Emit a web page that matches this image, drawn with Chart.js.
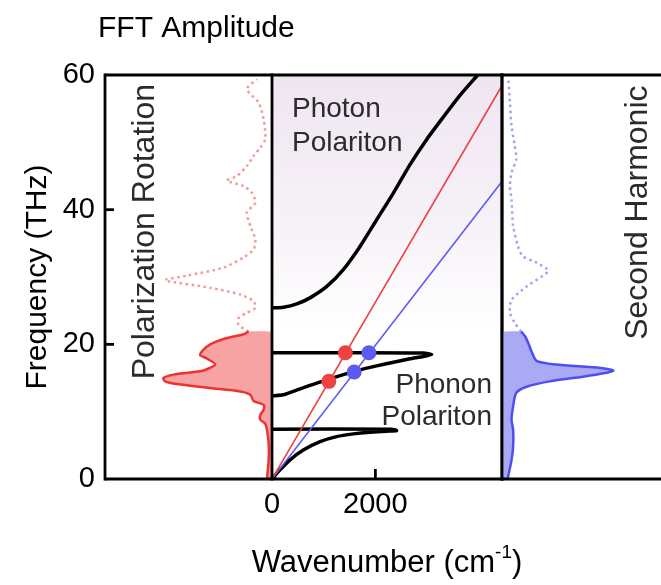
<!DOCTYPE html>
<html>
<head>
<meta charset="utf-8">
<script src="https://cdn.jsdelivr.net/npm/chart.js@4.4.1/dist/chart.umd.min.js"></script>
<style>
  html, body { margin: 0; padding: 0; background: #fff; overflow: hidden; }
  #wrap { position: relative; width: 661px; height: 585px; }
  #wrap canvas { position: absolute; left: 0; top: 0; }
</style>
</head>
<body>
<div id="wrap">
  <canvas id="cLeft" width="661" height="585"></canvas>
  <canvas id="cMid" width="661" height="585"></canvas>
  <canvas id="cRight" width="661" height="585"></canvas>
</div>
<script>
// ---- data ---------------------------------------------------------------
const freqTicks = [0, 20, 40, 60];          // THz
const wavenumberTicks = [0, 2000];          // cm^-1

// FFT amplitude of the polarization-rotation signal, [amplitude, THz]
const rotationMeasured = [[0.14,21.9],[0.17,21.5],[0.29,20.8],[0.37,20.0],[0.41,19.2],[0.43,18.4],[0.39,17.9],[0.34,17.0],[0.39,16.3],[0.43,16.0],[0.59,15.5],[0.65,15.0],[0.64,14.5],[0.57,14.1],[0.37,13.5],[0.19,13.0],[0.13,12.5],[0.11,11.6],[0.05,11.0],[0.05,10.3],[0.07,9.5],[0.07,8.8],[0.04,8.2],[0.03,7.3],[0.02,5.3],[0.02,2.9],[0.03,0]];
const rotationBeyond = [[0.14,21.9],[0.20,22.9],[0.20,23.9],[0.15,24.7],[0.10,25.4],[0.11,26.4],[0.19,27.4],[0.37,28.4],[0.63,29.4],[0.64,29.6],[0.51,30.2],[0.29,31.4],[0.17,32.9],[0.11,34.1],[0.10,35.6],[0.13,37.6],[0.15,39.6],[0.10,41.0],[0.12,42.5],[0.17,43.5],[0.27,44.3],[0.21,45.0],[0.15,46.5],[0.11,48.0],[0.07,49.2],[0.04,50.5],[0.05,53.4],[0.08,55.9],[0.15,57.9],[0.09,59.4]];

// FFT amplitude of the second-harmonic signal, [amplitude, THz]
const shgMeasured = [[0.12,21.9],[0.145,21.2],[0.165,20.2],[0.19,18.7],[0.22,17.5],[0.34,17.0],[0.62,16.5],[0.70,16.1],[0.64,15.7],[0.51,15.2],[0.30,14.5],[0.155,13.7],[0.09,12.8],[0.07,10.8],[0.06,8.8],[0.07,7.3],[0.07,4.8],[0.06,2.8],[0.035,0]];
const shgBeyond = [[0.12,21.9],[0.08,23.2],[0.05,24.7],[0.06,26.6],[0.155,28.6],[0.29,30.9],[0.22,32.1],[0.13,33.1],[0.10,34.6],[0.07,37.6],[0.06,41.5],[0.05,43.5],[0.06,45.5],[0.09,47.5],[0.08,49.5],[0.06,52.4],[0.05,55.9],[0.04,59.4]];

// Polariton dispersion branches, [wavenumber cm^-1, THz]
const photonBranch = [[0,25.4],[220,25.5],[480,26.0],[735,26.9],[1060,28.6],[1380,31.1],[1700,34.5],[2025,38.5],[2350,42.5],[2670,46.7],[2990,50.4],[3310,53.7],[3640,57.0],[3980,60.0]];
const upperPhonon = [[0,12.35],[220,12.5],[410,13.0],[735,13.9],[1060,14.7],[1380,15.5],[1700,16.2],[2025,16.8],[2350,17.35],[2670,17.85],[2930,18.2],[3090,18.5],[2930,18.7],[1700,18.75],[0,18.75]];
const lowerPhonon = [[0,0],[155,1.35],[350,2.85],[605,4.3],[930,5.55],[1250,6.3],[1575,6.7],[1895,6.95],[2220,7.1],[2410,7.2],[2315,7.4],[0,7.4]];

// Probe light lines and the phase-matched points on them
const lightLineRed = [[0,0],[4450,58.4]];
const lightLineBlue = [[0,0],[4450,44.2]];
const redMarkers = [[1420,18.75],[1100,14.5]];
const blueMarkers = [[1875,18.75],[1590,15.9]];

// ---- drawing ------------------------------------------------------------
const W = 661, H = 585;
const FRAME = { top: 75, bottom: 479, left: 105, split1: 272, split2: 502 };
const FONT = "'Liberation Sans', Arial, Helvetica, sans-serif";

Chart.defaults.font.family = FONT;
Chart.defaults.color = '#000';

const pts = arr => arr.map(([x, y]) => ({ x, y }));
const shapeOf = arr => [{ x: 0, y: arr[0][1] }, ...pts(arr), { x: 0, y: arr[arr.length - 1][1] }];

function strokeLine(ctx, x1, y1, x2, y2) {
  ctx.beginPath(); ctx.moveTo(x1, y1); ctx.lineTo(x2, y2); ctx.stroke();
}

function label(ctx, text, x, y, size, align, rotate, color) {
  ctx.save();
  ctx.font = `${size}px ${FONT}`;
  ctx.fillStyle = color || '#2b2b2b';
  ctx.textAlign = align;
  ctx.textBaseline = 'alphabetic';
  ctx.translate(x, y);
  if (rotate) ctx.rotate(-Math.PI / 2);
  ctx.fillText(text, 0, 0);
  ctx.restore();
}

// axis title with a raised exponent: base + sup + tail, centred on cx
function titleWithExponent(ctx, base, sup, tail, cx, baseline, size) {
  ctx.save();
  ctx.fillStyle = '#000';
  ctx.textBaseline = 'alphabetic';
  ctx.textAlign = 'left';
  const big = `${size}px ${FONT}`, small = `${Math.round(size * 0.62)}px ${FONT}`;
  ctx.font = big; const w1 = ctx.measureText(base).width, w3 = ctx.measureText(tail).width;
  ctx.font = small; const w2 = ctx.measureText(sup).width;
  let x = cx - (w1 + w2 + w3) / 2;
  ctx.font = big; ctx.fillText(base, x, baseline); x += w1;
  ctx.font = small; ctx.fillText(sup, x, baseline - size * 0.45); x += w2;
  ctx.font = big; ctx.fillText(tail, x, baseline);
  ctx.restore();
}

const baseOptions = (padding) => ({
  responsive: false,
  animation: false,
  devicePixelRatio: 1,
  layout: { padding },
  elements: { point: { radius: 0 }, line: { tension: 0.25 } },
  plugins: { legend: { display: false }, tooltip: { enabled: false } },
});

// Left panel: polarization rotation spectrum, amplitude grows leftwards
const leftDecor = {
  id: 'leftDecor',
  afterDraw(chart) {
    const { ctx, chartArea: a, scales } = chart;
    ctx.save();
    ctx.strokeStyle = '#000';
    ctx.lineWidth = 2.8;
    strokeLine(ctx, a.left, a.top, a.right, a.top);
    strokeLine(ctx, a.left, a.bottom, a.right, a.bottom);
    strokeLine(ctx, a.left, a.top - 1.4, a.left, a.bottom + 1.4);
    freqTicks.slice(1, -1).forEach(v => {
      const y = scales.y.getPixelForValue(v);
      strokeLine(ctx, a.left, y, a.left + 9, y);
    });
    ctx.restore();
    label(ctx, 'FFT Amplitude', 98, 37, 30, 'left', false, '#000');
    label(ctx, 'Polarization Rotation', 154, (a.top + scales.y.getPixelForValue(20)) / 2 + 22, 32, 'center', true);
  }
};

new Chart(document.getElementById('cLeft'), {
  type: 'line',
  data: {
    datasets: [
      { data: pts(rotationMeasured), borderColor: '#ee3232', borderWidth: 2.5, fill: false, order: 0 },
      { data: pts(rotationBeyond), borderColor: '#f29a9a', borderWidth: 2.5, borderDash: [2.5, 3.5], fill: false, order: 0 },
      { data: shapeOf(rotationMeasured), borderWidth: 0, borderColor: 'rgba(0,0,0,0)', backgroundColor: '#f7a3a3', fill: 'shape', order: 1 }
    ]
  },
  options: {
    ...baseOptions({ left: 0, top: FRAME.top, right: W - FRAME.split1, bottom: H - FRAME.bottom }),
    scales: {
      x: { type: 'linear', min: 0, max: 1, reverse: true, display: false },
      y: {
        type: 'linear', min: 0, max: 60, position: 'left',
        afterBuildTicks: s => { s.ticks = freqTicks.map(v => ({ value: v })); },
        afterFit: s => { s.width = FRAME.left; },
        grid: { display: false, drawTicks: false },
        border: { display: false },
        ticks: { font: { size: 29 }, padding: 10, color: '#000', callback: v => String(v) },
        title: { display: true, text: 'Frequency (THz)', font: { size: 30 }, color: '#000', padding: { top: 20, bottom: 0 } }
      }
    }
  },
  plugins: [leftDecor]
});

// Middle panel: polariton dispersion with the probe light lines
const midDecor = {
  id: 'midDecor',
  beforeDatasetsDraw(chart) {
    const { ctx, chartArea: a, scales } = chart;
    const g = ctx.createLinearGradient(0, a.top, 0, scales.y.getPixelForValue(22));
    g.addColorStop(0, '#efe5f1');
    g.addColorStop(0.6, '#f7f2f8');
    g.addColorStop(1, '#ffffff');
    ctx.save();
    ctx.fillStyle = g;
    ctx.fillRect(a.left, a.top, a.right - a.left, a.bottom - a.top);
    ctx.restore();
  },
  afterDraw(chart) {
    const { ctx, chartArea: a, scales } = chart;
    ctx.save();
    ctx.strokeStyle = '#000';
    ctx.lineWidth = 2.8;
    strokeLine(ctx, a.left, a.top, a.right, a.top);
    strokeLine(ctx, a.left, a.bottom, a.right, a.bottom);
    strokeLine(ctx, a.left, a.top - 1.4, a.left, a.bottom + 1.4);
    strokeLine(ctx, a.right, a.top - 1.4, a.right, a.bottom + 1.4);
    wavenumberTicks.slice(1).forEach(v => {
      const x = scales.x.getPixelForValue(v);
      strokeLine(ctx, x, a.bottom, x, a.bottom - 10);
    });
    ctx.restore();
    label(ctx, 'Photon', a.left + 20, 117, 28, 'left', false);
    label(ctx, 'Polariton', a.left + 20, 151, 28, 'left', false);
    label(ctx, 'Phonon', a.right - 10, 393, 28, 'right', false);
    label(ctx, 'Polariton', a.right - 10, 425, 28, 'right', false);
    titleWithExponent(ctx, 'Wavenumber (cm', '-1', ')', (a.left + a.right) / 2, 572, 31);
  }
};

const curve = (arr) => ({ data: pts(arr), borderColor: '#000', borderWidth: 3.5, fill: false, order: 2, tension: 0.2 });
const lightLine = (arr, color) => ({ data: pts(arr), borderColor: color, borderWidth: 1.6, fill: false, order: 1, tension: 0 });
const markers = (arr, color) => ({ data: pts(arr), showLine: false, pointRadius: 7.5, pointBackgroundColor: color, pointBorderWidth: 0, pointBorderColor: color, order: 0 });

new Chart(document.getElementById('cMid'), {
  type: 'line',
  data: {
    datasets: [
      curve(photonBranch),
      curve(upperPhonon),
      curve(lowerPhonon),
      lightLine(lightLineRed, '#ee3b3b'),
      lightLine(lightLineBlue, '#5a5af0'),
      markers(redMarkers, '#ef4141'),
      markers(blueMarkers, '#5b5bf2')
    ]
  },
  options: {
    ...baseOptions({ left: FRAME.split1, top: FRAME.top, right: W - FRAME.split2, bottom: 0 }),
    scales: {
      x: {
        type: 'linear', min: 0, max: 4450, position: 'bottom',
        afterBuildTicks: s => { s.ticks = wavenumberTicks.map(v => ({ value: v })); },
        afterFit: s => { s.height = H - FRAME.bottom; },
        grid: { display: false, drawTicks: false },
        border: { display: false },
        ticks: { font: { size: 29 }, padding: 9, color: '#000', maxRotation: 0, callback: v => String(v) },
        title: { display: false }
      },
      y: { type: 'linear', min: 0, max: 60, display: false }
    }
  },
  plugins: [midDecor]
});

// Right panel: second-harmonic spectrum, amplitude grows rightwards
const rightDecor = {
  id: 'rightDecor',
  afterDraw(chart) {
    const { ctx, chartArea: a, scales } = chart;
    ctx.save();
    ctx.strokeStyle = '#000';
    ctx.lineWidth = 2.8;
    strokeLine(ctx, a.left, a.top, W, a.top);
    strokeLine(ctx, a.left, a.bottom, W, a.bottom);
    strokeLine(ctx, a.left, a.top - 1.4, a.left, a.bottom + 1.4);
    ctx.restore();
    label(ctx, 'Second Harmonic', 647, (a.top + scales.y.getPixelForValue(20)) / 2 + 3, 32, 'center', true);
  }
};

new Chart(document.getElementById('cRight'), {
  type: 'line',
  data: {
    datasets: [
      { data: pts(shgMeasured), borderColor: '#4f4ff0', borderWidth: 2.5, fill: false, order: 0 },
      { data: pts(shgBeyond), borderColor: '#a3a3f0', borderWidth: 2.5, borderDash: [2.5, 3.5], fill: false, order: 0 },
      { data: shapeOf(shgMeasured), borderWidth: 0, borderColor: 'rgba(0,0,0,0)', backgroundColor: '#a9a9f6', fill: 'shape', order: 1 }
    ]
  },
  options: {
    ...baseOptions({ left: FRAME.split2, top: FRAME.top, right: 0, bottom: H - FRAME.bottom }),
    scales: {
      x: { type: 'linear', min: 0, max: 1, display: false },
      y: { type: 'linear', min: 0, max: 60, display: false }
    }
  },
  plugins: [rightDecor]
});
</script>
</body>
</html>
